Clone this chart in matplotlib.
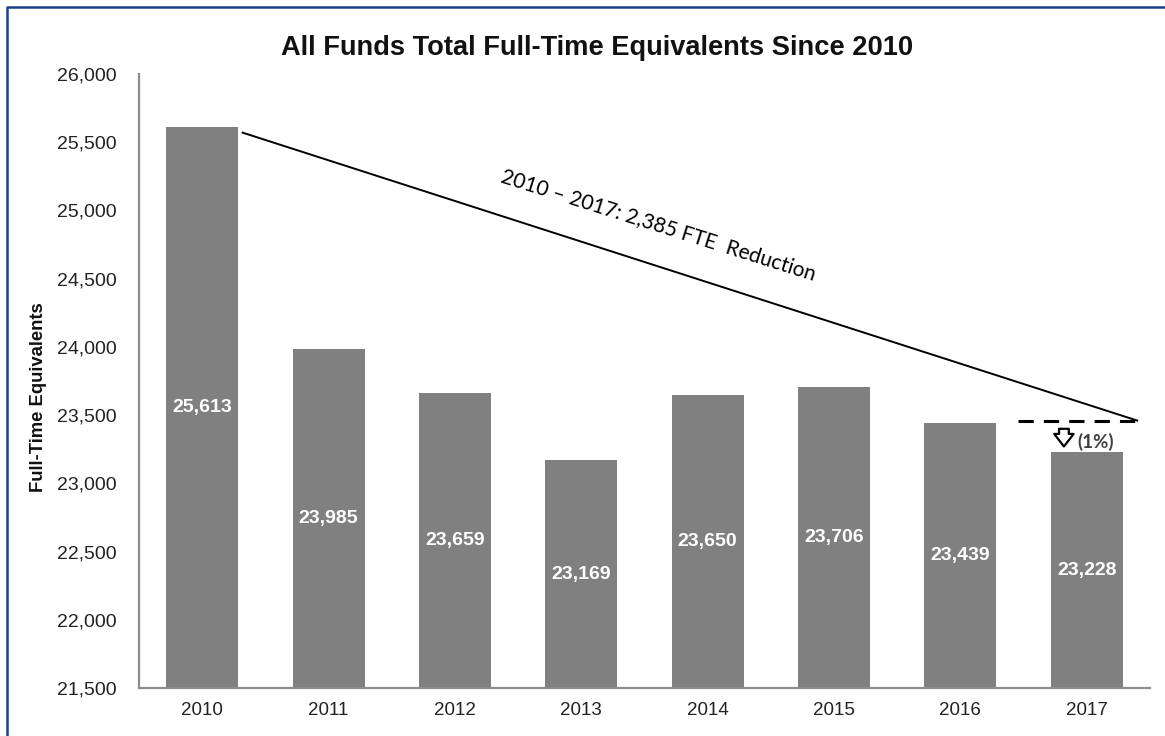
import numpy as np
import matplotlib.pyplot as plt
from matplotlib.lines import Line2D

years = ['2010', '2011', '2012', '2013', '2014', '2015', '2016', '2017']
fte = [25613, 23985, 23659, 23169, 23650, 23706, 23439, 23228]
yticks = [21500, 22000, 22500, 23000, 23500, 24000, 24500, 25000, 25500, 26000]

# trend line endpoints (bar index, FTE) and the 2017 reference level
trend_x = [0.32, 7.40]
trend_y = [25570, 23460]
ref_level = 23460

plt.rcParams['font.family'] = ['Liberation Sans', 'DejaVu Sans']

fig = plt.figure(figsize=(11.65, 7.36), dpi=100)
ax = fig.add_axes([0.1193, 0.0652, 0.8677, 0.8343])

x = np.arange(len(years))
ax.bar(x, fte, width=0.57, color='#808080', zorder=2)

ax.set_xlim(-0.5, len(years) - 0.5)
ax.set_ylim(21500, 26000)
ax.set_xticks(x)
ax.set_xticklabels(years, fontsize=13.5, color='#222222')
ax.set_yticks(yticks)
ax.set_yticklabels(['{:,}'.format(v) for v in yticks], fontsize=14, color='#222222')
ax.tick_params(length=0, pad=10)
ax.tick_params(axis='y', pad=16)

for side in ['top', 'right']:
    ax.spines[side].set_visible(False)
for side in ['left', 'bottom']:
    ax.spines[side].set_color('#8c8c8c')
    ax.spines[side].set_linewidth(1.6)

# value labels in the middle of each visible bar
for i, v in enumerate(fte):
    ax.text(i, (v + 21500) / 2, '{:,}'.format(v), ha='center', va='center',
            color='white', fontsize=14, fontweight='bold', zorder=3)

fig.text(39 / 1165, 1 - 397 / 736, 'Full-Time Equivalents', rotation=90,
         ha='center', va='center', fontsize=13.3, fontweight='bold', color='#111111')

# reduction trend line and its label
ax.plot(trend_x, trend_y, color='black', lw=1.4, zorder=3, clip_on=False)
ax.text(3.61, 24890, '2010 \u2013 2017: 2,385 FTE  Reduction', rotation=-17.5,
        rotation_mode='anchor', ha='center', va='center', fontsize=15,
        family=['Lato', 'DejaVu Sans'], color='black')

# dashed level line above the 2017 bar
ax.plot([6.46, 7.40], [ref_level, ref_level], color='black', lw=2.2,
        linestyle=(0, (5, 3.3)), zorder=3, clip_on=False)

ax.annotate('', xy=(6.82, 23250), xytext=(6.82, 23420),
            arrowprops=dict(arrowstyle='simple,head_length=0.9,head_width=1.4,tail_width=0.7',
                            fc='white', ec='black', lw=1.6))
ax.text(6.93, 23305, '(1%)', ha='left', va='center', fontsize=13.5,
        fontweight='bold', family=['Lato', 'DejaVu Sans'], color='#404040')

fig.text(0.5125, 1 - 55 / 736, 'All Funds Total Full-Time Equivalents Since 2010',
         ha='center', va='baseline', fontsize=19.6, fontweight='bold', color='#111111')

# outer frame (left and top edges)
fx = 6.5 / 1165
fy = 1 - 6.5 / 736
fig.add_artist(Line2D([fx, fx, 1.0], [0.0, fy, fy], transform=fig.transFigure,
                      color='#1c3f8a', lw=1.8))

fig.savefig('out.png', dpi=100)
plt.close(fig)
